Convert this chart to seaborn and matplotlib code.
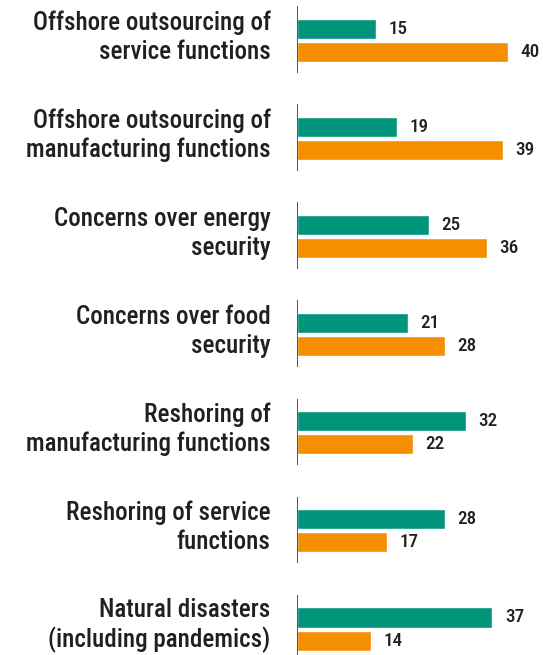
import matplotlib
matplotlib.use("Agg")
import matplotlib.pyplot as plt
import matplotlib.transforms as mtransforms
import seaborn as sns
import pandas as pd

categories = [
    "Offshore outsourcing of\nservice functions",
    "Offshore outsourcing of\nmanufacturing functions",
    "Concerns over energy\nsecurity",
    "Concerns over food\nsecurity",
    "Reshoring of\nmanufacturing functions",
    "Reshoring of service\nfunctions",
    "Natural disasters\n(including pandemics)",
]
series_names = ["Teal", "Orange"]
teal_values = [15, 19, 25, 21, 32, 28, 37]
orange_values = [40, 39, 36, 28, 22, 17, 14]

colors = ["#00957A", "#F38F00"]
text_color = "#231F20"

df = pd.DataFrame({
    "category": categories * 2,
    "series": [series_names[0]] * len(categories) + [series_names[1]] * len(categories),
    "value": teal_values + orange_values,
})

sns.set_style("white")
plt.rcParams["font.family"] = ["Roboto Condensed", "DejaVu Sans"]

fig = plt.figure(figsize=(5.43, 6.55), dpi=100)
ax = fig.add_axes([297 / 543, 0, 246 / 543, 1])

sns.barplot(data=df, y="category", x="value", hue="series", palette=colors,
            order=categories, hue_order=series_names, width=0.47, gap=0.13,
            saturation=1, legend=False, ax=ax)

for cont in ax.containers:
    ax.bar_label(cont, padding=9, fontsize=13.8, fontweight="medium", color=text_color)

# a short axis line next to each group, not one long spine
ax.vlines([0] * len(categories), [i - 0.35 for i in range(len(categories))],
          [i + 0.33 for i in range(len(categories))], color="#333333", lw=1.2)

ax.set_xlim(0, 46.6)
ax.set_ylim(6.265, -0.413)
ax.set_xlabel("")
ax.set_ylabel("")
ax.set_xticks([])
ax.tick_params(axis="y", length=0, pad=19)
shift_up = mtransforms.ScaledTranslation(0, 2.5 / 72, fig.dpi_scale_trans)
for lab in ax.get_yticklabels():
    lab.set_fontsize(18)
    lab.set_fontweight("medium")
    lab.set_color(text_color)
    lab.set_linespacing(1.25)
    lab.set_verticalalignment("center")
    lab.set_transform(lab.get_transform() + shift_up)
for s in ax.spines.values():
    s.set_visible(False)

fig.savefig("out.png", dpi=100, facecolor="white")
